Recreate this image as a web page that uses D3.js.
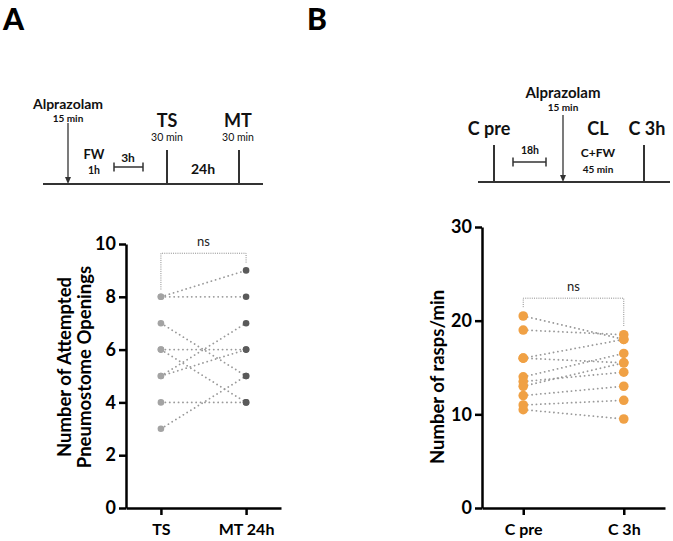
<!DOCTYPE html>
<html>
<head>
<meta charset="utf-8">
<script src="https://cdn.jsdelivr.net/npm/d3@7"></script>
<style>
  body { margin: 0; background: #fff; }
  text { font-family: Lato, "Open Sans", sans-serif; }
</style>
</head>
<body>
<div id="chart"></div>
<script>
// panel A: attempted pneumostome openings
const aCats = ['TS', 'MT 24h']
const aTicks = [0, 2, 4, 6, 8, 10]
const aBefore = [8, 8, 7, 6, 6, 5, 5, 4, 3]
const aAfter = [9, 8, 5, 6, 4, 7, 6, 4, 5]

// panel B: rasps per minute
const bCats = ['C pre', 'C 3h']
const bTicks = [0, 10, 20, 30]
const bBefore = [20.5, 19, 16, 16, 14, 13.5, 13, 12, 11, 10.5]
const bAfter = [18, 18.5, 18, 15.5, 16.5, 14.5, 15.5, 13, 11.5, 9.5]

const width = 673
const height = 541

const svg = d3.select('#chart')
  .append('svg')
  .attr('width', width)
  .attr('height', height)

// panel letters
svg.append('text').attr('x', 3).attr('y', 30).text('A')
  .attr('font-size', 30).attr('font-weight', 900)
svg.append('text').attr('x', 307).attr('y', 30).text('B')
  .attr('font-size', 30).attr('font-weight', 900)

function label(x, y, txt, size, weight) {
  return svg.append('text')
    .attr('x', x).attr('y', y)
    .attr('text-anchor', 'middle')
    .attr('dominant-baseline', 'central')
    .attr('font-size', size)
    .attr('font-weight', weight || 'bold')
    .attr('fill', '#111')
    .text(txt)
}

function vline(x, y1, y2) {
  svg.append('line').attr('x1', x).attr('x2', x).attr('y1', y1).attr('y2', y2)
    .attr('stroke', '#333').attr('stroke-width', 2)
}

function arrow(x, y1, y2) {
  svg.append('line').attr('x1', x).attr('x2', x).attr('y1', y1).attr('y2', y2 - 5)
    .attr('stroke', '#333').attr('stroke-width', 1.3)
  svg.append('path')
    .attr('d', `M${x - 3},${y2 - 7}L${x + 3},${y2 - 7}L${x},${y2}Z`)
    .attr('fill', '#333')
}

function span(x1, x2, y) {
  svg.append('path')
    .attr('d', `M${x1},${y - 4.5}V${y + 4.5}M${x1},${y}H${x2}M${x2},${y - 4.5}V${y + 4.5}`)
    .attr('fill', 'none').attr('stroke', '#333').attr('stroke-width', 1.5)
}

// timeline A
svg.append('line').attr('x1', 43).attr('x2', 263).attr('y1', 184).attr('y2', 184)
  .attr('stroke', '#333').attr('stroke-width', 2)
arrow(68, 123, 184)
label(68, 103, 'Alprazolam', 14)
label(68, 118, '15 min', 10)
label(94, 154, 'FW', 13)
label(94, 170, '1h', 10.5)
span(114, 143, 167)
label(128, 157, '3h', 12)
vline(167, 150, 184)
label(167, 120, 'TS', 18)
label(167, 137, '30 min', 10.5, 'normal')
vline(239, 150, 184)
label(238, 120, 'MT', 18)
label(238, 137, '30 min', 10.5, 'normal')
label(203, 168, '24h', 14)

// timeline B
svg.append('line').attr('x1', 478).attr('x2', 670).attr('y1', 182).attr('y2', 182)
  .attr('stroke', '#333').attr('stroke-width', 2)
vline(494, 145, 182)
label(489, 128, 'C pre', 18)
span(513, 546, 162)
label(530, 150, '18h', 10.5)
arrow(563, 115, 182)
label(563, 92, 'Alprazolam', 15)
label(563, 107, '15 min', 10)
label(598, 128, 'CL', 18)
label(598, 152, 'C+FW', 12)
label(598, 169, '45 min', 10)
vline(644, 145, 182)
label(647, 128, 'C 3h', 18)

function panel(opt) {
  const x = d3.scalePoint().domain(opt.cats).range([opt.x0, opt.x1]).padding(0.41)
  const y = d3.scaleLinear().domain([0, opt.max]).range([opt.y0, opt.y1])
  const g = svg.append('g')

  // y axis
  const yAxis = g.append('g')
    .attr('transform', `translate(${opt.x0},0)`)
    .call(d3.axisLeft(y).tickValues(opt.ticks).tickSize(7).tickSizeOuter(0).tickPadding(3))
  yAxis.select('.domain').attr('stroke', '#000').attr('stroke-width', 2.5)
  yAxis.selectAll('.tick line').attr('stroke', '#000').attr('stroke-width', 2.5)
  yAxis.selectAll('.tick text')
    .attr('font-family', 'Lato, sans-serif')
    .attr('font-size', 18).attr('font-weight', 'bold').attr('fill', '#000')

  // x axis
  const xAxis = g.append('g')
    .attr('transform', `translate(0,${opt.y0})`)
    .call(d3.axisBottom(x).tickSize(7).tickSizeOuter(0).tickPadding(9))
  xAxis.select('.domain').attr('stroke', '#000').attr('stroke-width', 2.5)
  xAxis.selectAll('.tick line').attr('stroke', '#000').attr('stroke-width', 2.5)
  xAxis.selectAll('.tick text')
    .attr('font-family', 'Lato, sans-serif')
    .attr('font-size', 16).attr('font-weight', 'bold').attr('fill', '#000')

  // y title
  const tt = g.append('text')
    .attr('transform', `translate(${opt.titleX},${opt.titleY}) rotate(-90)`)
    .attr('text-anchor', 'middle')
    .attr('font-size', 18.5).attr('font-weight', 'bold').attr('fill', '#000')
  opt.title.forEach((line, i) => {
    tt.append('tspan').attr('x', 0).attr('dy', i === 0 ? 0 : 20).text(line)
  })

  // paired lines
  const pairs = opt.before.map((v, i) => ({ a: v, b: opt.after[i] }))
  g.append('g').selectAll('line')
    .data(pairs)
    .enter()
    .append('line')
    .attr('x1', x(opt.cats[0]))
    .attr('x2', x(opt.cats[1]))
    .attr('y1', d => y(d.a))
    .attr('y2', d => y(d.b))
    .attr('stroke', '#9a9a9a')
    .attr('stroke-width', 1.8)
    .attr('stroke-linecap', 'round')
    .attr('stroke-dasharray', '0.1 4.3')

  // dots
  g.append('g').selectAll('circle')
    .data(opt.before)
    .enter()
    .append('circle')
    .attr('cx', x(opt.cats[0]))
    .attr('cy', d => y(d))
    .attr('r', opt.r)
    .attr('fill', opt.colors[0])
  g.append('g').selectAll('circle')
    .data(opt.after)
    .enter()
    .append('circle')
    .attr('cx', x(opt.cats[1]))
    .attr('cy', d => y(d))
    .attr('r', opt.r)
    .attr('fill', opt.colors[1])

  // significance bracket
  const xa = x(opt.cats[0])
  const xb = x(opt.cats[1])
  const top = y(opt.bracket)
  g.append('path')
    .attr('d', `M${xa},${y(d3.max(opt.before)) - opt.r - 4}V${top}H${xb}V${y(d3.max(opt.after)) - opt.r - 4}`)
    .attr('fill', 'none')
    .attr('stroke', '#8a8a8a')
    .attr('stroke-width', 1)
    .attr('stroke-dasharray', '1 1.2')
  g.append('text')
    .attr('x', (xa + xb) / 2)
    .attr('y', top - 7)
    .attr('text-anchor', 'middle')
    .attr('font-size', 13)
    .attr('fill', '#222')
    .text('ns')
}

panel({
  cats: aCats, ticks: aTicks, before: aBefore, after: aAfter, max: 10,
  x0: 126, x1: 281, y0: 508, y1: 244, r: 3.3,
  colors: ['#a3a3a3', '#5a5a5a'], bracket: 9.65,
  title: ['Number of Attempted', 'Pneumostome Openings'], titleX: 71, titleY: 367
})

panel({
  cats: bCats, ticks: bTicks, before: bBefore, after: bAfter, max: 30,
  x0: 482, x1: 665, y0: 508, y1: 227, r: 4.8,
  colors: ['#f0a145', '#f0a145'], bracket: 22.4,
  title: ['Number of rasps/min'], titleX: 444, titleY: 377
})
</script>
</body>
</html>
